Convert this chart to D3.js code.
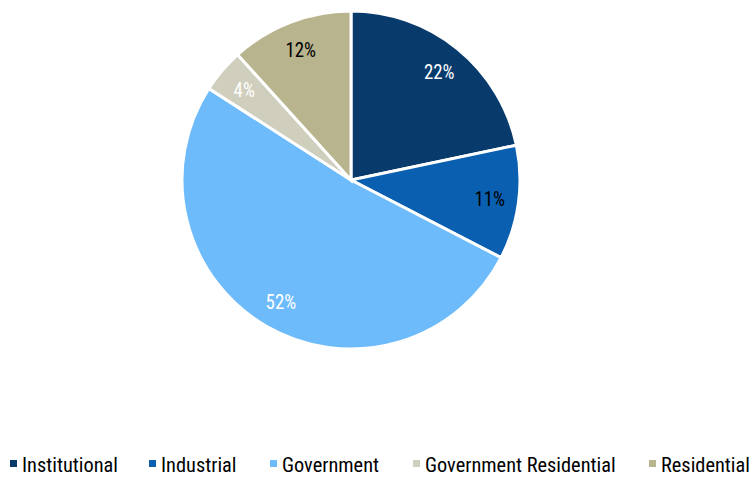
<!DOCTYPE html>
<html>
<head>
<meta charset="utf-8">
<script src="https://cdn.jsdelivr.net/npm/d3@7"></script>
<style>
  body { margin: 0; background: #fff; }
  text { font-family: "Roboto Condensed", "Roboto", sans-serif; }
</style>
</head>
<body>
<div id="canvas"></div>
<script>
const categories = ["Institutional", "Industrial", "Government", "Government Residential", "Residential"];
const values = [21.7, 10.9, 51.5, 4.2, 11.7];
const labels = ["22%", "11%", "52%", "4%", "12%"];
const colors = ["#083a6c", "#0a5fb0", "#6dbbfb", "#d0cebd", "#b8b48d"];
const labelColors = ["#fff", "#000", "#fff", "#fff", "#000"];
const legendX = [10, 149, 270, 413, 649];

const width = 752;
const height = 478;
const cx = 351, cy = 180, radius = 169;

const svg = d3.select('#canvas').append("svg")
    .attr("width", width)
    .attr("height", height);

const g = svg.append("g")
    .attr("transform", `translate(${cx}, ${cy})`);

const pie = d3.pie().sort(null).value(d => d);
const arcs = pie(values);

const arc = d3.arc().innerRadius(0).outerRadius(radius);
const labelArc = d3.arc().innerRadius(140).outerRadius(140);

g.selectAll("path")
    .data(arcs)
    .enter().append("path")
    .attr("d", arc)
    .attr("fill", (d, i) => colors[i])
    .attr("stroke", "#fff")
    .attr("stroke-width", 3);

// condensed look: taller glyphs, squeezed horizontally
g.selectAll("text.lbl")
    .data(arcs)
    .enter().append("text")
    .attr("class", "lbl")
    .attr("transform", d => `translate(${labelArc.centroid(d)}) scale(0.9, 1)`)
    .attr("text-anchor", "middle")
    .attr("dy", "0.36em")
    .attr("font-size", 21)
    .attr("fill", (d, i) => labelColors[i])
    .text((d, i) => labels[i]);

const legend = svg.append("g")
    .attr("transform", "translate(0, 464)");

const item = legend.selectAll("g")
    .data(categories)
    .enter().append("g")
    .attr("transform", (d, i) => `translate(${legendX[i]}, 0)`);

item.append("rect")
    .attr("x", 0)
    .attr("y", -4)
    .attr("width", 7)
    .attr("height", 7)
    .attr("fill", (d, i) => colors[i]);

item.append("text")
    .attr("transform", "translate(12, 0) scale(0.97, 1)")
    .attr("dy", "0.36em")
    .attr("font-size", 21)
    .attr("fill", "#000")
    .text(d => d);
</script>
</body>
</html>
